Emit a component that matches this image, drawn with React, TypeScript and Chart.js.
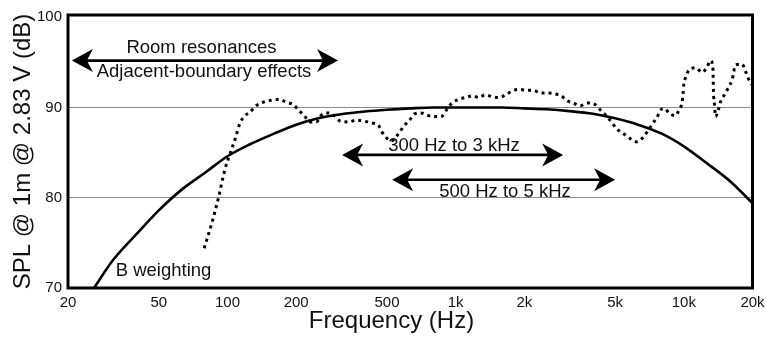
import React, { useEffect, useRef } from "react";
import { Chart, registerables } from "chart.js";

Chart.register(...registerables);

const FONT = '"Liberation Sans", Arial, Helvetica, sans-serif';

// Axis ticks
const xTickValues = [20, 50, 100, 200, 500, 1000, 2000, 5000, 10000, 20000];
const xTickLabels = ["20", "50", "100", "200", "500", "1k", "2k", "5k", "10k", "20k"];
const yTickValues = [70, 80, 90, 100];
const yGridValues = [80, 90];

// B weighting curve (solid)
const bWeightFreq = [26, 31.5, 40, 50, 63, 80, 100, 125, 160, 200, 250, 315, 400, 500, 630, 800, 1000, 1250, 1600, 2000, 2500, 3150, 4000, 5000, 6300, 8000, 10000, 12500, 16000, 20000];
const bWeightLevel = [70.0, 73.1, 76.0, 78.6, 80.9, 82.8, 84.6, 85.9, 87.1, 88.1, 88.8, 89.25, 89.55, 89.75, 89.9, 90.0, 90.0, 90.0, 90.0, 89.9, 89.8, 89.6, 89.3, 88.8, 88.1, 87.1, 85.7, 83.9, 81.8, 79.4];

// Measured loudspeaker response (dotted)
const responseFreq = [79, 85.4, 91.3, 97.6, 102.7, 108, 113.6, 119.5, 125.7, 133.6, 143.8, 154.9, 168.4, 180.8, 194.6, 206.8, 216.8, 230.4, 244.8, 259.3, 277.2, 293.6, 311.9, 339.2, 366.6, 394.7, 425.4, 459.2, 475.2, 508, 522, 562, 591, 628, 661, 705, 761, 814, 865, 916, 964, 1030, 1102, 1191, 1261, 1349, 1443, 1543, 1623, 1707, 1795, 1921, 2056, 2197, 2351, 2516, 2735, 2906, 3057, 3270, 3521, 3791, 4097, 4352, 4610, 4850, 5101, 5452, 5794, 6241, 6631, 6947, 7337, 7638, 7842, 8207, 8676, 9191, 9550, 9833, 9933, 9994, 10166, 10510, 11246, 12036, 12660, 13090, 13397, 13451, 13490, 13627, 13766, 14231, 14477, 15226, 15743, 16293, 16846, 18026, 18637, 19270, 19940];
const responseLevel = [74.4, 77.2, 80.0, 83.2, 84.9, 86.5, 88.3, 89.1, 89.5, 90.2, 90.6, 90.8, 90.9, 90.6, 90.3, 89.6, 89.1, 88.4, 88.4, 89.2, 89.4, 89.1, 88.5, 88.4, 88.6, 88.5, 88.3, 88.0, 87.3, 86.4, 86.3, 87.1, 87.9, 88.6, 89.3, 89.4, 89.1, 89.0, 89.0, 89.8, 90.5, 90.9, 91.1, 91.3, 91.1, 91.4, 91.2, 91.1, 91.3, 91.6, 91.9, 92.0, 91.9, 91.9, 91.6, 91.6, 91.5, 91.3, 90.8, 90.5, 90.2, 90.5, 90.3, 89.6, 89.0, 88.3, 87.6, 87.1, 86.6, 86.2, 86.7, 87.4, 88.3, 88.9, 89.6, 89.9, 89.3, 89.1, 89.8, 90.6, 91.6, 92.5, 93.3, 94.1, 94.4, 93.9, 94.5, 95.2, 94.5, 93.2, 91.7, 90.4, 89.0, 89.9, 90.6, 91.6, 92.3, 93.1, 94.7, 94.8, 94.0, 93.1, 92.5];

// Range arrows
const arrowFrom = [20.8, 318, 527];
const arrowTo = [305, 2960, 5000];
const arrowLevel = [95.2, 84.75, 82.0];

const annotationPlugin = {
  id: "annotations",
  afterDatasetsDraw(chart: any) {
    const { ctx, chartArea, scales } = chart;
    const xs = scales.x;
    const ys = scales.y;
    ctx.save();

    // frame
    ctx.strokeStyle = "#000";
    ctx.lineWidth = 3;
    ctx.strokeRect(chartArea.left, chartArea.top, chartArea.right - chartArea.left, chartArea.bottom - chartArea.top);

    // arrows
    const head = (tip: number, yy: number, dir: number) => {
      ctx.beginPath();
      ctx.moveTo(tip, yy);
      ctx.lineTo(tip + dir * 21, yy - 11.5);
      ctx.lineTo(tip + dir * 15, yy);
      ctx.lineTo(tip + dir * 21, yy + 11.5);
      ctx.closePath();
      ctx.fill();
    };
    ctx.fillStyle = "#000";
    ctx.lineWidth = 2.6;
    for (let i = 0; i < arrowFrom.length; i++) {
      const x1 = xs.getPixelForValue(arrowFrom[i]);
      const x2 = xs.getPixelForValue(arrowTo[i]);
      const yy = ys.getPixelForValue(arrowLevel[i]);
      ctx.beginPath();
      ctx.moveTo(x1 + 10, yy);
      ctx.lineTo(x2 - 10, yy);
      ctx.stroke();
      head(x1, yy, 1);
      head(x2, yy, -1);
    }

    // labels
    ctx.fillStyle = "#111";
    ctx.textAlign = "center";
    ctx.textBaseline = "alphabetic";
    ctx.font = `18.5px ${FONT}`;
    ctx.fillText("Room resonances", 201.5, 52.7);
    ctx.fillText("Adjacent-boundary effects", 204, 77.3);
    ctx.fillText("300 Hz to 3 kHz", 454, 150.7);
    ctx.fillText("500 Hz to 5 kHz", 505, 196.7);
    ctx.fillText("B weighting", 163.5, 276);

    // x title
    ctx.font = `24px ${FONT}`;
    ctx.fillText("Frequency (Hz)", 391.5, 328);
    ctx.restore();
  },
};

export default function App() {
  const ref = useRef<HTMLCanvasElement | null>(null);

  useEffect(() => {
    if (!ref.current) return;
    const chart = new Chart(ref.current, {
      type: "line",
      data: {
        datasets: [
          {
            label: "B weighting",
            data: bWeightFreq.map((f, i) => ({ x: f, y: bWeightLevel[i] })),
            borderColor: "#000",
            borderWidth: 2.6,
            pointRadius: 0,
            cubicInterpolationMode: "monotone",
            fill: false,
          },
          {
            label: "Response",
            data: responseFreq.map((f, i) => ({ x: f, y: responseLevel[i] })),
            borderColor: "#000",
            borderWidth: 3,
            borderDash: [3, 4],
            borderCapStyle: "butt",
            pointRadius: 0,
            cubicInterpolationMode: "monotone",
            fill: false,
          },
        ],
      },
      options: {
        responsive: false,
        animation: false,
        events: [],
        layout: { padding: { top: 14, right: 13.5, left: 0, bottom: 0 } },
        plugins: {
          legend: { display: false },
          tooltip: { enabled: false },
        },
        scales: {
          x: {
            type: "logarithmic",
            min: 20,
            max: 20000,
            afterBuildTicks: (s: any) => {
              s.ticks = xTickValues.map((v) => ({ value: v }));
            },
            afterFit: (s: any) => {
              s.height = 50;
            },
            grid: { display: false },
            border: { display: false },
            ticks: {
              autoSkip: false,
              maxRotation: 0,
              padding: -2,
              color: "#111",
              font: { family: FONT, size: 15 },
              callback: (v: any) => xTickLabels[xTickValues.indexOf(Number(v))],
            },
          },
          y: {
            type: "linear",
            min: 70,
            max: 100.25,
            afterBuildTicks: (s: any) => {
              s.ticks = yTickValues.map((v) => ({ value: v }));
            },
            afterFit: (s: any) => {
              s.width = 68;
            },
            grid: {
              drawTicks: false,
              lineWidth: 1,
              color: (c: any) => (c.tick && yGridValues.includes(c.tick.value) ? "#8a8a8a" : "rgba(0,0,0,0)"),
            },
            border: { display: false },
            ticks: {
              padding: 6,
              color: "#111",
              font: { family: FONT, size: 15 },
            },
            title: {
              display: true,
              text: "SPL @ 1m @ 2.83 V (dB)",
              color: "#111",
              font: { family: FONT, size: 24, lineHeight: 1 },
              padding: { top: 11, bottom: 0 },
            },
          },
        },
      },
      plugins: [annotationPlugin],
    } as any);
    return () => chart.destroy();
  }, []);

  return (
    <div style={{ position: "fixed", left: 0, top: 0, width: 766, height: 338, background: "#fff" }}>
      <canvas ref={ref} width={766} height={338} />
    </div>
  );
}
